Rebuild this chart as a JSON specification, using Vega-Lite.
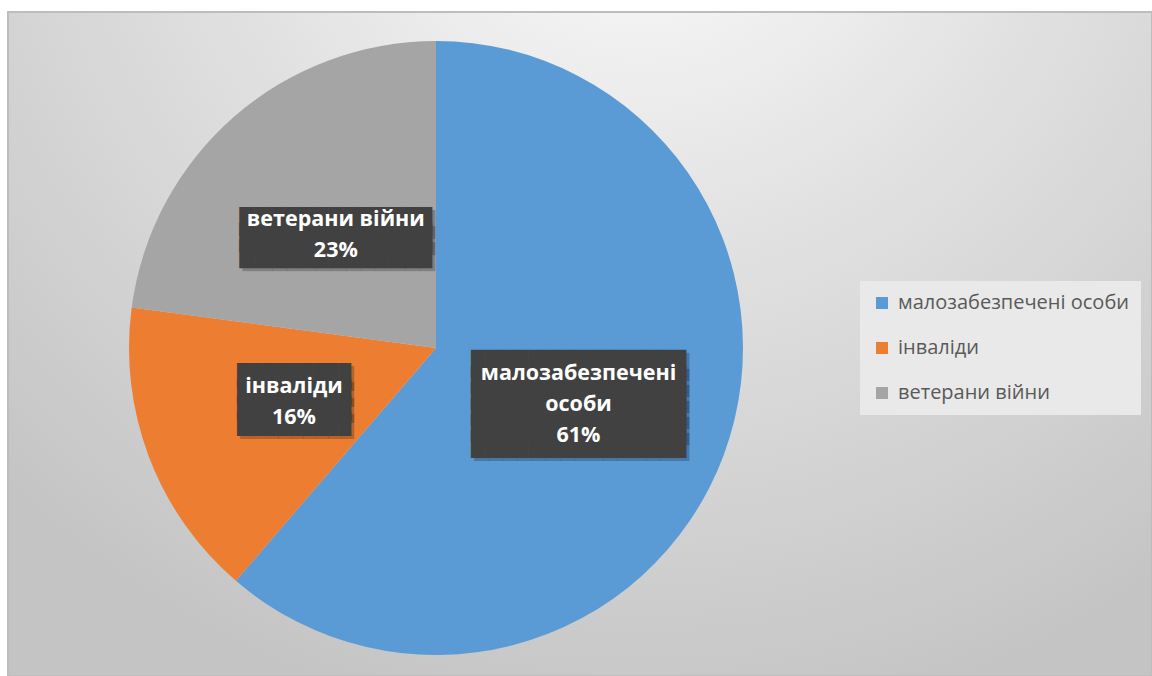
{
  "$schema": "https://vega.github.io/schema/vega-lite/v6.json",
  "width": 1144,
  "height": 664,
  "padding": {"left": 8, "top": 12, "right": 0, "bottom": 0},
  "autosize": {"type": "none"},
  "background": "#ffffff",
  "view": {
    "fill": {
      "gradient": "radial",
      "x1": 0.55, "y1": 0.05, "r1": 0,
      "x2": 0.55, "y2": 0.05, "r2": 0.8,
      "stops": [
        {"offset": 0, "color": "#ffffff"},
        {"offset": 0.45, "color": "#e2e2e2"},
        {"offset": 1, "color": "#c4c4c4"}
      ]
    },
    "stroke": "#bdbdbd",
    "strokeWidth": 2
  },
  "data": {
    "values": [
      {"n": 1, "cat": "малозабезпечені особи", "value": 61.3, "label": "малозабезпечені\nособи\n61%"},
      {"n": 2, "cat": "інваліди", "value": 15.8, "label": "інваліди\n16%"},
      {"n": 3, "cat": "ветерани війни", "value": 22.9, "label": "ветерани війни\n23%"}
    ]
  },
  "encoding": {
    "theta": {"field": "value", "type": "quantitative", "stack": true},
    "order": {"field": "n", "type": "quantitative"}
  },
  "layer": [
    {
      "mark": {"type": "arc", "outerRadius": 307, "x": 428, "y": 336},
      "encoding": {
        "color": {
          "field": "cat",
          "type": "nominal",
          "scale": {
            "domain": ["малозабезпечені особи", "інваліди", "ветерани війни"],
            "range": ["#5B9BD5", "#ED7D31", "#A5A5A5"]
          },
          "legend": {
            "title": null,
            "orient": "none",
            "legendX": 852,
            "legendY": 269,
            "symbolType": "square",
            "symbolSize": 144,
            "symbolStrokeWidth": 0,
            "labelFont": "Open Sans",
            "labelFontSize": 20,
            "labelColor": "#595959",
            "labelOffset": 6,
            "labelLimit": 400,
            "rowPadding": 25,
            "padding": 12,
            "fillColor": "#e9e9e9"
          }
        }
      }
    },
    {
      "mark": {"type": "text", "x": 428, "y": 336, "radius": 152, "font": "DejaVu Sans Mono", "lineHeight": 16, "dx": 3, "dy": {"expr": "datum.n === 1 ? -33 : datum.n === 2 ? -22 : -8"}, "color": "rgba(0,0,0,0.22)", "align": "center", "baseline": "middle"},
      "encoding": {
        "detail": {"field": "cat"},
        "text": {
          "condition": [
            {"test": "datum.n === 1", "value": ["███████████████", "███████████████", "███████████████", "███████████████", "███████████████", "███████████████"]},
            {"test": "datum.n === 2", "value": ["█████████", "█████████", "█████████", "█████████"]}
          ],
          "value": ["█████████████", "█████████████", "█████████████"]
        },
        "size": {
          "condition": [
            {"test": "datum.n === 1", "value": 23.8},
            {"test": "datum.n === 2", "value": 21}
          ],
          "value": 24.6
        }
      }
    },
    {
      "mark": {"type": "text", "x": 428, "y": 336, "radius": 152, "font": "DejaVu Sans Mono", "lineHeight": 16, "dy": {"expr": "datum.n === 1 ? -36 : datum.n === 2 ? -25 : -11"}, "color": "#414141", "align": "center", "baseline": "middle"},
      "encoding": {
        "detail": {"field": "cat"},
        "text": {
          "condition": [
            {"test": "datum.n === 1", "value": ["███████████████", "███████████████", "███████████████", "███████████████", "███████████████", "███████████████"]},
            {"test": "datum.n === 2", "value": ["█████████", "█████████", "█████████", "█████████"]}
          ],
          "value": ["█████████████", "█████████████", "█████████████"]
        },
        "size": {
          "condition": [
            {"test": "datum.n === 1", "value": 23.8},
            {"test": "datum.n === 2", "value": 21}
          ],
          "value": 24.6
        }
      }
    },
    {
      "mark": {"type": "text", "x": 428, "y": 336, "radius": 152, "font": "Open Sans", "fontWeight": "bold", "fontSize": 21.5, "lineHeight": 31, "lineBreak": "\n", "dy": {"expr": "datum.n === 1 ? -27 : datum.n === 2 ? -15.5 : -14"}, "color": "#ffffff", "align": "center", "baseline": "middle"},
      "encoding": {
        "detail": {"field": "cat"},
        "text": {"field": "label", "type": "nominal"}
      }
    }
  ]
}
